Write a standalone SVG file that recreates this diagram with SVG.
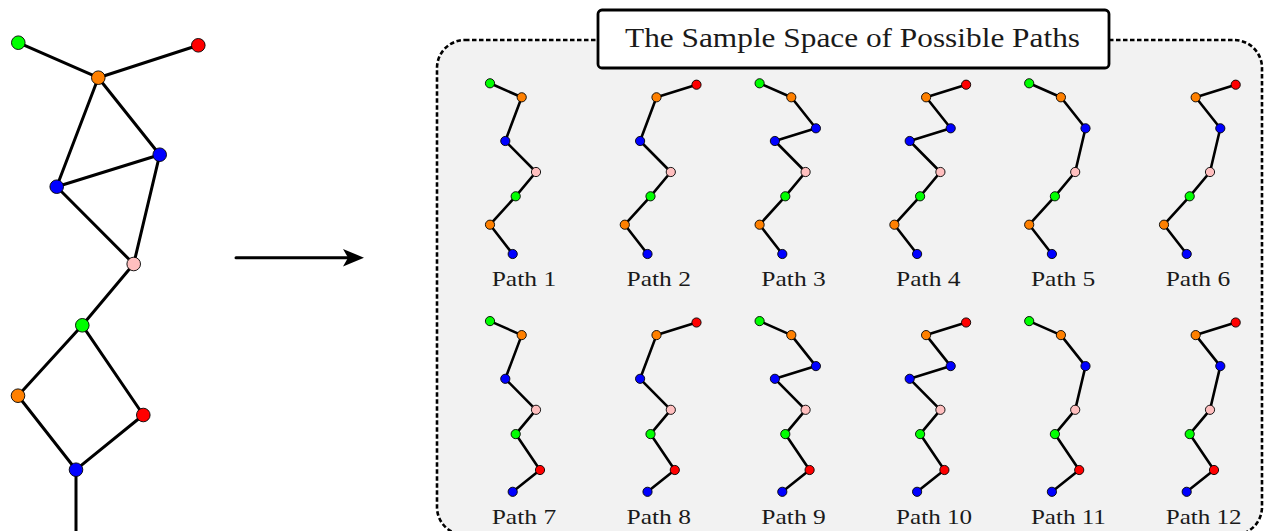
<svg xmlns="http://www.w3.org/2000/svg" width="1264" height="531" viewBox="0 0 1264 531">
<style>
.e{stroke:#000;stroke-width:3;fill:none;stroke-linecap:round}
.me{stroke:#000;stroke-width:2.6;fill:none;stroke-linejoin:round;stroke-linecap:round}
circle{stroke:#000;stroke-width:0.9}
.g{fill:#00ff00}.r{fill:#ff0000}.o{fill:#ff8000}.b{fill:#0000ff}.p{fill:#ffbfbf}
.lbl{font-family:"Liberation Serif","Times New Roman",serif;font-size:22px;fill:#1a1a1a}
.ttl{font-family:"Liberation Serif","Times New Roman",serif;font-size:28px;fill:#1a1a1a}
</style>
<rect x="0" y="0" width="1264" height="531" fill="#fff"/>

<g id="container">
<rect x="437" y="40" width="825" height="495" rx="28" ry="28" fill="#f2f2f2" stroke="#000" stroke-width="2.6" stroke-dasharray="4.5 2.5"/>
</g>
<g id="title">
<rect x="598" y="10" width="511" height="58" rx="4" ry="4" fill="#fff" stroke="#000" stroke-width="2.8"/>
<text class="ttl" x="625" y="47" textLength="455" lengthAdjust="spacingAndGlyphs">The Sample Space of Possible Paths</text>
</g>

<g id="connectors">
<line class="e" x1="18.3" y1="42.7" x2="98.3" y2="77.7"/>
<line class="e" x1="98.3" y1="77.7" x2="198.3" y2="45.3"/>
<line class="e" x1="98.3" y1="77.7" x2="56.7" y2="186.7"/>
<line class="e" x1="98.3" y1="77.7" x2="159.7" y2="154.7"/>
<line class="e" x1="56.7" y1="186.7" x2="159.7" y2="154.7"/>
<line class="e" x1="56.7" y1="186.7" x2="133.7" y2="264"/>
<line class="e" x1="159.7" y1="154.7" x2="133.7" y2="264"/>
<line class="e" x1="133.7" y1="264" x2="82.3" y2="325.3"/>
<line class="e" x1="82.3" y1="325.3" x2="18" y2="395.7"/>
<line class="e" x1="82.3" y1="325.3" x2="143.3" y2="415"/>
<line class="e" x1="18" y1="395.7" x2="76" y2="469.7"/>
<line class="e" x1="143.3" y1="415" x2="76" y2="469.7"/>
<line class="e" x1="76" y1="469.7" x2="76" y2="540" stroke-linecap="butt"/>
<line x1="236" y1="257.7" x2="350" y2="257.7" stroke="#000" stroke-width="3" stroke-linecap="round"/>
<polygon points="364,257.7 343,249 348,257.7 343,266.4" fill="#000"/>
</g>

<g id="n-green1"><circle cx="18.3" cy="42.7" r="6.8" class="g"/></g>
<g id="n-red1"><circle cx="198.3" cy="45.3" r="6.8" class="r"/></g>
<g id="n-orange1"><circle cx="98.3" cy="77.7" r="6.8" class="o"/></g>
<g id="n-blue2"><circle cx="159.7" cy="154.7" r="6.8" class="b"/></g>
<g id="n-blue1"><circle cx="56.7" cy="186.7" r="6.8" class="b"/></g>
<g id="n-pink"><circle cx="133.7" cy="264" r="6.8" class="p"/></g>
<g id="n-green2"><circle cx="82.3" cy="325.3" r="6.8" class="g"/></g>
<g id="n-orange2"><circle cx="18" cy="395.7" r="6.8" class="o"/></g>
<g id="n-red2"><circle cx="143.3" cy="415" r="6.8" class="r"/></g>
<g id="n-blue3"><circle cx="76" cy="469.7" r="6.8" class="b"/></g>

<g id="path1">
<polyline class="me" points="490,83.3 521.7,97.3 505.3,141 536,172 515.7,196.3 490,224.7 512.7,254"/>
<circle cx="490" cy="83.3" r="4.6" class="g"/><circle cx="521.7" cy="97.3" r="4.6" class="o"/><circle cx="505.3" cy="141" r="4.6" class="b"/><circle cx="536" cy="172" r="4.6" class="p"/><circle cx="515.7" cy="196.3" r="4.6" class="g"/><circle cx="490" cy="224.7" r="4.6" class="o"/><circle cx="512.7" cy="254" r="4.6" class="b"/>
<text class="lbl" x="491.7" y="286" textLength="64.5" lengthAdjust="spacingAndGlyphs">Path 1</text>
</g>
<g id="path2" transform="translate(134.8,0)">
<polyline class="me" points="561.7,84.7 521.7,97.3 505.3,141 536,172 515.7,196.3 490,224.7 512.7,254"/>
<circle cx="561.7" cy="84.7" r="4.6" class="r"/><circle cx="521.7" cy="97.3" r="4.6" class="o"/><circle cx="505.3" cy="141" r="4.6" class="b"/><circle cx="536" cy="172" r="4.6" class="p"/><circle cx="515.7" cy="196.3" r="4.6" class="g"/><circle cx="490" cy="224.7" r="4.6" class="o"/><circle cx="512.7" cy="254" r="4.6" class="b"/>
<text class="lbl" x="491.7" y="286" textLength="64.5" lengthAdjust="spacingAndGlyphs">Path 2</text>
</g>
<g id="path3" transform="translate(269.6,0)">
<polyline class="me" points="490,83.3 521.7,97.3 546.3,128.3 505.3,141 536,172 515.7,196.3 490,224.7 512.7,254"/>
<circle cx="490" cy="83.3" r="4.6" class="g"/><circle cx="521.7" cy="97.3" r="4.6" class="o"/><circle cx="546.3" cy="128.3" r="4.6" class="b"/><circle cx="505.3" cy="141" r="4.6" class="b"/><circle cx="536" cy="172" r="4.6" class="p"/><circle cx="515.7" cy="196.3" r="4.6" class="g"/><circle cx="490" cy="224.7" r="4.6" class="o"/><circle cx="512.7" cy="254" r="4.6" class="b"/>
<text class="lbl" x="491.7" y="286" textLength="64.5" lengthAdjust="spacingAndGlyphs">Path 3</text>
</g>
<g id="path4" transform="translate(404.4,0)">
<polyline class="me" points="561.7,84.7 521.7,97.3 546.3,128.3 505.3,141 536,172 515.7,196.3 490,224.7 512.7,254"/>
<circle cx="561.7" cy="84.7" r="4.6" class="r"/><circle cx="521.7" cy="97.3" r="4.6" class="o"/><circle cx="546.3" cy="128.3" r="4.6" class="b"/><circle cx="505.3" cy="141" r="4.6" class="b"/><circle cx="536" cy="172" r="4.6" class="p"/><circle cx="515.7" cy="196.3" r="4.6" class="g"/><circle cx="490" cy="224.7" r="4.6" class="o"/><circle cx="512.7" cy="254" r="4.6" class="b"/>
<text class="lbl" x="491.7" y="286" textLength="64.5" lengthAdjust="spacingAndGlyphs">Path 4</text>
</g>
<g id="path5" transform="translate(539.2,0)">
<polyline class="me" points="490,83.3 521.7,97.3 546.3,128.3 536,172 515.7,196.3 490,224.7 512.7,254"/>
<circle cx="490" cy="83.3" r="4.6" class="g"/><circle cx="521.7" cy="97.3" r="4.6" class="o"/><circle cx="546.3" cy="128.3" r="4.6" class="b"/><circle cx="536" cy="172" r="4.6" class="p"/><circle cx="515.7" cy="196.3" r="4.6" class="g"/><circle cx="490" cy="224.7" r="4.6" class="o"/><circle cx="512.7" cy="254" r="4.6" class="b"/>
<text class="lbl" x="491.7" y="286" textLength="64.5" lengthAdjust="spacingAndGlyphs">Path 5</text>
</g>
<g id="path6" transform="translate(674,0)">
<polyline class="me" points="561.7,84.7 521.7,97.3 546.3,128.3 536,172 515.7,196.3 490,224.7 512.7,254"/>
<circle cx="561.7" cy="84.7" r="4.6" class="r"/><circle cx="521.7" cy="97.3" r="4.6" class="o"/><circle cx="546.3" cy="128.3" r="4.6" class="b"/><circle cx="536" cy="172" r="4.6" class="p"/><circle cx="515.7" cy="196.3" r="4.6" class="g"/><circle cx="490" cy="224.7" r="4.6" class="o"/><circle cx="512.7" cy="254" r="4.6" class="b"/>
<text class="lbl" x="491.7" y="286" textLength="64.5" lengthAdjust="spacingAndGlyphs">Path 6</text>
</g>

<g id="path7" transform="translate(0,237.8)">
<polyline class="me" points="490,83.3 521.7,97.3 505.3,141 536,172 515.7,196.3 540,232.2 512.7,254"/>
<circle cx="490" cy="83.3" r="4.6" class="g"/><circle cx="521.7" cy="97.3" r="4.6" class="o"/><circle cx="505.3" cy="141" r="4.6" class="b"/><circle cx="536" cy="172" r="4.6" class="p"/><circle cx="515.7" cy="196.3" r="4.6" class="g"/><circle cx="540" cy="232.2" r="4.6" class="r"/><circle cx="512.7" cy="254" r="4.6" class="b"/>
<text class="lbl" x="491.7" y="286" textLength="64.5" lengthAdjust="spacingAndGlyphs">Path 7</text>
</g>
<g id="path8" transform="translate(134.8,237.8)">
<polyline class="me" points="561.7,84.7 521.7,97.3 505.3,141 536,172 515.7,196.3 540,232.2 512.7,254"/>
<circle cx="561.7" cy="84.7" r="4.6" class="r"/><circle cx="521.7" cy="97.3" r="4.6" class="o"/><circle cx="505.3" cy="141" r="4.6" class="b"/><circle cx="536" cy="172" r="4.6" class="p"/><circle cx="515.7" cy="196.3" r="4.6" class="g"/><circle cx="540" cy="232.2" r="4.6" class="r"/><circle cx="512.7" cy="254" r="4.6" class="b"/>
<text class="lbl" x="491.7" y="286" textLength="64.5" lengthAdjust="spacingAndGlyphs">Path 8</text>
</g>
<g id="path9" transform="translate(269.6,237.8)">
<polyline class="me" points="490,83.3 521.7,97.3 546.3,128.3 505.3,141 536,172 515.7,196.3 540,232.2 512.7,254"/>
<circle cx="490" cy="83.3" r="4.6" class="g"/><circle cx="521.7" cy="97.3" r="4.6" class="o"/><circle cx="546.3" cy="128.3" r="4.6" class="b"/><circle cx="505.3" cy="141" r="4.6" class="b"/><circle cx="536" cy="172" r="4.6" class="p"/><circle cx="515.7" cy="196.3" r="4.6" class="g"/><circle cx="540" cy="232.2" r="4.6" class="r"/><circle cx="512.7" cy="254" r="4.6" class="b"/>
<text class="lbl" x="491.7" y="286" textLength="64.5" lengthAdjust="spacingAndGlyphs">Path 9</text>
</g>
<g id="path10" transform="translate(404.4,237.8)">
<polyline class="me" points="561.7,84.7 521.7,97.3 546.3,128.3 505.3,141 536,172 515.7,196.3 540,232.2 512.7,254"/>
<circle cx="561.7" cy="84.7" r="4.6" class="r"/><circle cx="521.7" cy="97.3" r="4.6" class="o"/><circle cx="546.3" cy="128.3" r="4.6" class="b"/><circle cx="505.3" cy="141" r="4.6" class="b"/><circle cx="536" cy="172" r="4.6" class="p"/><circle cx="515.7" cy="196.3" r="4.6" class="g"/><circle cx="540" cy="232.2" r="4.6" class="r"/><circle cx="512.7" cy="254" r="4.6" class="b"/>
<text class="lbl" x="491.7" y="286" textLength="76" lengthAdjust="spacingAndGlyphs">Path 10</text>
</g>
<g id="path11" transform="translate(539.2,237.8)">
<polyline class="me" points="490,83.3 521.7,97.3 546.3,128.3 536,172 515.7,196.3 540,232.2 512.7,254"/>
<circle cx="490" cy="83.3" r="4.6" class="g"/><circle cx="521.7" cy="97.3" r="4.6" class="o"/><circle cx="546.3" cy="128.3" r="4.6" class="b"/><circle cx="536" cy="172" r="4.6" class="p"/><circle cx="515.7" cy="196.3" r="4.6" class="g"/><circle cx="540" cy="232.2" r="4.6" class="r"/><circle cx="512.7" cy="254" r="4.6" class="b"/>
<text class="lbl" x="491.7" y="286" textLength="75" lengthAdjust="spacingAndGlyphs">Path 11</text>
</g>
<g id="path12" transform="translate(674,237.8)">
<polyline class="me" points="561.7,84.7 521.7,97.3 546.3,128.3 536,172 515.7,196.3 540,232.2 512.7,254"/>
<circle cx="561.7" cy="84.7" r="4.6" class="r"/><circle cx="521.7" cy="97.3" r="4.6" class="o"/><circle cx="546.3" cy="128.3" r="4.6" class="b"/><circle cx="536" cy="172" r="4.6" class="p"/><circle cx="515.7" cy="196.3" r="4.6" class="g"/><circle cx="540" cy="232.2" r="4.6" class="r"/><circle cx="512.7" cy="254" r="4.6" class="b"/>
<text class="lbl" x="491.7" y="286" textLength="76" lengthAdjust="spacingAndGlyphs">Path 12</text>
</g>
</svg>
